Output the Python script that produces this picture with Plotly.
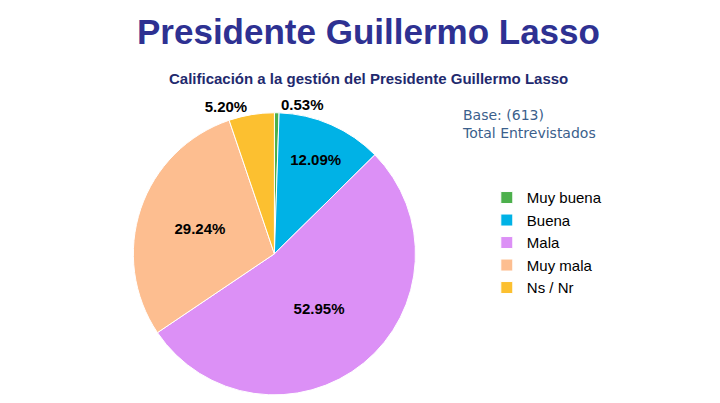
import plotly.graph_objects as go

categories = ["Muy buena", "Buena", "Mala", "Muy mala", "Ns / Nr"]
values = [0.53, 12.09, 52.95, 29.24, 5.20]
colors = ["#4CB04C", "#00B2E6", "#DC90F6", "#FDBE90", "#FCC030"]
labels_txt = ["0.53%", "12.09%", "52.95%", "29.24%", "5.20%"]

fig = go.Figure()
fig.add_trace(go.Pie(
    labels=categories, values=values, sort=False, direction="clockwise", rotation=0,
    marker=dict(colors=colors, line=dict(color="white", width=1)),
    text=labels_txt, texttemplate="<b>%{text}</b>", textinfo="text",
    textposition=["outside", "inside", "inside", "inside", "outside"],
    insidetextorientation="horizontal",
    textfont=dict(family="Arial", size=15, color="black"),
    domain=dict(x=[0.14, 0.60], y=[0.04, 0.74]),
    showlegend=True,
))
fig.update_layout(
    width=720, height=403, margin=dict(l=0, r=0, t=0, b=0),
    paper_bgcolor="white", plot_bgcolor="white",
    legend=dict(x=0.665, y=0.57, xanchor="left", yanchor="top",
                font=dict(family="Arial", size=15, color="black"),
                tracegroupgap=8, itemwidth=30),
    annotations=[
        dict(text="<b>Presidente Guillermo Lasso</b>", x=0.5, y=0.995, xref="paper", yref="paper",
             xanchor="center", yanchor="top", showarrow=False,
             font=dict(family="Arial", size=35, color="#2E3192")),
        dict(text="<b>Calificación a la gestión del Presidente Guillermo Lasso</b>", x=0.5, y=0.825,
             xref="paper", yref="paper", xanchor="center", yanchor="middle", showarrow=False,
             font=dict(family="Arial", size=15, color="#1F2A6E")),
        dict(text="Base: (613)<br>Total Entrevistados", x=0.628, y=0.76, xref="paper", yref="paper",
             xanchor="left", yanchor="top", showarrow=False, align="left",
             font=dict(family="Verdana, DejaVu Sans", size=14, color="#3B5F8C")),
    ],
)
fig.write_html("out.html")
